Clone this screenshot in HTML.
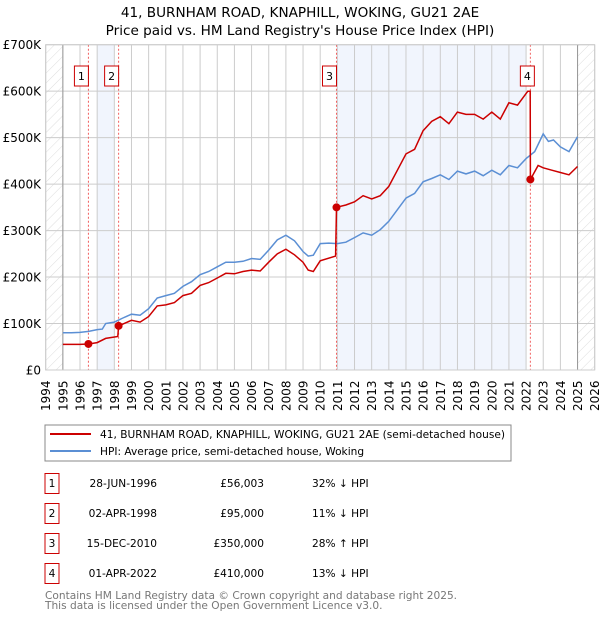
<!DOCTYPE html>
<html><head><meta charset="utf-8"><style>
body{margin:0;background:#fff;font-family:"DejaVu Sans","Liberation Sans",sans-serif;}
svg{position:absolute;left:0;top:0}
</style></head><body>
<svg id="c" width="600" height="620" font-family="DejaVu Sans, Liberation Sans, sans-serif">
<defs><pattern id="hatch" width="7" height="7" patternUnits="userSpaceOnUse" patternTransform="rotate(45)"><line x1="0" y1="0" x2="0" y2="7" stroke="#d4d4d4" stroke-width="0.8"/></pattern></defs>
<text x="300" y="17" text-anchor="middle" font-size="13.6">41, BURNHAM ROAD, KNAPHILL, WOKING, GU21 2AE</text>
<text x="300" y="35" text-anchor="middle" font-size="13.6">Price paid vs. HM Land Registry's House Price Index (HPI)</text>
<g id="plot"></g>
<rect x="45" y="425" width="466" height="36" fill="#fff" stroke="#888"/>
<line x1="50" y1="434" x2="91" y2="434" stroke="#cc0000" stroke-width="2"/>
<text x="100" y="438" font-size="10.6">41, BURNHAM ROAD, KNAPHILL, WOKING, GU21 2AE (semi-detached house)</text>
<line x1="50" y1="451" x2="91" y2="451" stroke="#5b8fd4" stroke-width="2"/>
<text x="100" y="455" font-size="10.6">HPI: Average price, semi-detached house, Woking</text>
<g id="table" font-size="10.6"></g>
<text x="45" y="599" font-size="10.6" fill="#777">Contains HM Land Registry data © Crown copyright and database right 2025.</text>
<text x="45" y="609" font-size="10.6" fill="#777">This data is licensed under the Open Government Licence v3.0.</text>
</svg>
<script>
const hpiYears=[1995,1995.5,1996,1996.5,1997,1997.3,1997.5,1998,1998.5,1999,1999.5,2000,2000.5,2001,2001.5,2002,2002.5,2003,2003.5,2004,2004.5,2005,2005.5,2006,2006.5,2007,2007.5,2008,2008.5,2009,2009.3,2009.6,2010,2010.5,2011,2011.5,2012,2012.5,2013,2013.5,2014,2014.5,2015,2015.5,2016,2016.5,2017,2017.5,2018,2018.5,2019,2019.5,2020,2020.5,2021,2021.5,2022,2022.5,2023,2023.3,2023.6,2024,2024.5,2025];
const hpiValues=[80,80,81,83,87,88,100,103,112,120,118,132,155,160,165,180,190,205,212,222,232,232,234,240,238,258,280,290,278,255,245,247,272,273,272,275,285,295,290,302,320,345,370,380,405,412,420,410,428,422,428,418,430,420,440,435,455,470,508,492,495,480,470,502];
const priceYears=[1995,1995.5,1996,1996.49,1997,1997.5,1998.2,1998.25,1999,1999.5,2000,2000.5,2001,2001.5,2002,2002.5,2003,2003.5,2004,2004.5,2005,2005.5,2006,2006.5,2007,2007.5,2008,2008.5,2009,2009.3,2009.6,2010,2010.9,2010.95,2011.5,2012,2012.5,2013,2013.5,2014,2014.5,2015,2015.5,2016,2016.5,2017,2017.5,2018,2018.5,2019,2019.5,2020,2020.5,2021,2021.5,2022.1,2022.24,2022.25,2022.7,2023,2023.5,2024,2024.5,2025];
const priceValues=[55,55,55,56,59,68,72,95,107,103,115,138,140,145,160,165,182,188,198,208,207,212,215,213,232,250,260,248,232,215,212,235,245,350,355,362,375,368,375,395,430,465,475,515,535,545,530,555,550,550,540,555,540,575,570,600,600,410,440,435,430,425,420,438];
const saleYears=[1996.49,1998.25,2010.95,2022.25];
const saleValues=[56.003,95,350,410];
const saleLabels=["1","2","3","4"];
const saleDates=["28-JUN-1996","02-APR-1998","15-DEC-2010","01-APR-2022"];
const salePrices=["£56,003","£95,000","£350,000","£410,000"];
const saleHpi=["32% ↓ HPI","11% ↓ HPI","28% ↑ HPI","13% ↓ HPI"];
const yTicks=[0,100,200,300,400,500,600,700];
const yTickLabels=["£0","£100K","£200K","£300K","£400K","£500K","£600K","£700K"];
const shadeRanges=[[1997,1998],[2011,2022]];

const NS="http://www.w3.org/2000/svg";
const X0=45.7,X1=594.7,Y0=370,Y1=44.7;
const xs=y=>X0+(y-1994)*(X1-X0)/32;
const ys=v=>Y0-v*(Y0-Y1)/700;
function mk(tag,attrs,parent){const e=document.createElementNS(NS,tag);for(const k in attrs)e.setAttribute(k,attrs[k]);parent.appendChild(e);return e;}
const g=document.getElementById('plot');
let e;
for(const r of shadeRanges){e=mk('rect',{x:xs(r[0]),y:Y1,width:xs(r[1])-xs(r[0]),height:Y0-Y1,fill:'#eef3fc',opacity:0.8},g);

}
e=mk('rect',{x:X0,y:Y1,width:xs(1995)-X0,height:Y0-Y1,fill:'url(#hatch)'},g);


e=mk('rect',{x:xs(2025),y:Y1,width:X1-xs(2025),height:Y0-Y1,fill:'url(#hatch)'},g);


for(let yr=1994;yr<=2026;yr++){
 e=mk('line',{x1:xs(yr),x2:xs(yr),y1:Y1,y2:Y0,stroke:'#ccc','stroke-width':1},g);
 
 
 const t=mk('text',{transform:`translate(${xs(yr)+4.5},${Y0+41}) rotate(-90)`,'font-size':12},g);t.textContent=yr;
 
 
}
yTicks.forEach((v,i)=>{
 e=mk('line',{x1:X0,x2:X1,y1:ys(v),y2:ys(v),stroke:'#ccc','stroke-width':1},g);
 
 
 const t=mk('text',{x:41,y:ys(v)+4.5,'text-anchor':'end','font-size':12},g);t.textContent=yTickLabels[i];
 
 
});
e=mk('line',{x1:xs(1995),x2:xs(1995),y1:Y1,y2:Y0,stroke:'#999'},g);


e=mk('line',{x1:xs(2025),x2:xs(2025),y1:Y1,y2:Y0,stroke:'#999'},g);


saleYears.forEach((yr,i)=>{
 e=mk('line',{x1:xs(yr),x2:xs(yr),y1:Y1,y2:Y0,stroke:'#f06060','stroke-dasharray':'2,2'},g);
 
 
 const cx=xs(yr)-(i<3?7:3);
 e=mk('rect',{x:cx-7,y:66,width:14,height:20,fill:'#fff',stroke:'#cc0000'},g);
 
 
 const t=mk('text',{x:cx,y:80,'text-anchor':'middle','font-size':11},g);t.textContent=saleLabels[i];
 
 
});
e=mk('rect',{x:X0,y:Y1,width:X1-X0,height:Y0-Y1,fill:'none',stroke:'#ccc'},g);


const pts=(xa,va)=>xa.map((x,i)=>xs(x).toFixed(1)+','+ys(va[i]).toFixed(1)).join(' ');
e=mk('polyline',{points:pts(hpiYears,hpiValues),fill:'none',stroke:'#5b8fd4','stroke-width':1.5},g);


e=mk('polyline',{points:pts(priceYears,priceValues),fill:'none',stroke:'#cc0000','stroke-width':1.5},g);


saleYears.forEach((yr,i)=>{
 e=mk('circle',{cx:xs(yr),cy:ys(saleValues[i]),r:4,fill:'#cc0000'},g);
 
 
});
const tb=document.getElementById('table');
saleLabels.forEach((l,i)=>{
 const cy=483+i*30;
 e=mk('rect',{x:45,y:cy-9.5,width:14,height:20,fill:'#fff',stroke:'#cc0000'},tb);
 
 
 const cells=[[52,'middle',l,'table-index'],[157,'end',saleDates[i],'table-date'],[264,'end',salePrices[i],'table-price'],[312,'start',saleHpi[i],'table-hpi-change']];
 for(const c of cells){const t=mk('text',{x:c[0],y:cy+4,'text-anchor':c[1]},tb);t.textContent=c[2];
 
 }
});
</script>
</body></html>
